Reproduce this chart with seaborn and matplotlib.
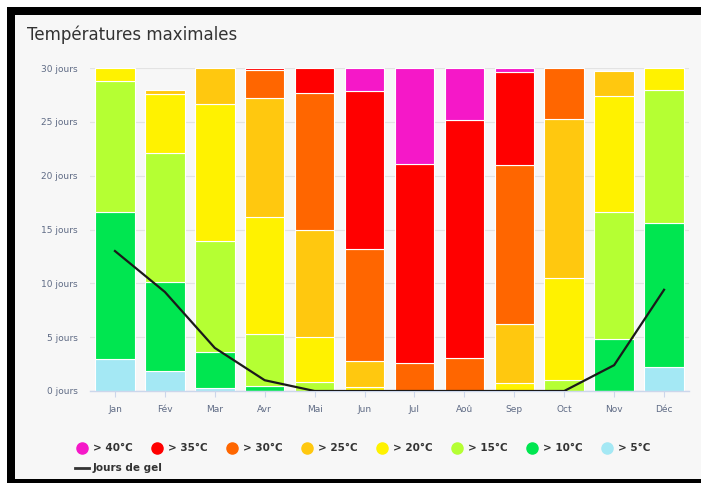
import numpy as np
import pandas as pd
import matplotlib.pyplot as plt
import seaborn as sns
from matplotlib.lines import Line2D
from matplotlib.patches import Rectangle

months = ["Jan", "Fév", "Mar", "Avr", "Mai", "Jun", "Jul", "Aoû", "Sep", "Oct", "Nov", "Déc"]

# days per month in each max-temperature band, bottom to top
above_5  = [3.0, 1.9, 0.3, 0.0, 0.0, 0.0, 0.0, 0.0, 0.0, 0.0, 0.0, 2.2]
above_10 = [13.6, 8.2, 3.3, 0.5, 0.0, 0.0, 0.0, 0.0, 0.0, 0.0, 4.8, 13.4]
above_15 = [12.2, 12.0, 10.3, 4.8, 0.8, 0.0, 0.0, 0.0, 0.0, 1.0, 11.8, 12.4]
above_20 = [1.2, 5.5, 12.8, 10.9, 4.2, 0.4, 0.0, 0.0, 0.7, 9.5, 10.8, 2.0]
above_25 = [0.0, 0.4, 3.3, 11.0, 10.0, 2.4, 0.0, 0.0, 5.5, 14.8, 2.3, 0.0]
above_30 = [0.0, 0.0, 0.0, 2.6, 12.7, 10.4, 2.6, 3.1, 14.8, 4.7, 0.0, 0.0]
above_35 = [0.0, 0.0, 0.0, 0.2, 2.3, 14.7, 18.5, 22.1, 8.6, 0.0, 0.0, 0.0]
above_40 = [0.0, 0.0, 0.0, 0.0, 0.0, 2.1, 8.9, 4.8, 0.4, 0.0, 0.0, 0.0]
frost_days = [13.0, 9.2, 4.0, 1.0, 0.0, 0.0, 0.0, 0.0, 0.0, 0.0, 2.4, 9.4]

band_labels = ["> 5°C", "> 10°C", "> 15°C", "> 20°C", "> 25°C", "> 30°C", "> 35°C", "> 40°C"]
band_colors = ["#a4e8f4", "#00e650", "#b5ff33", "#fff200", "#ffc80f", "#ff6600", "#ff0000", "#f518c8"]
bands = [above_5, above_10, above_15, above_20, above_25, above_30, above_35, above_40]

W, H = 701, 483
fig = plt.figure(figsize=(W / 100, H / 100), dpi=100)
fig.patch.set_facecolor("white")

# black frame + light panel
fig.add_artist(Rectangle((7 / W, 0), 1, (H - 7) / H, transform=fig.transFigure,
                         facecolor="black", edgecolor="none", zorder=-20))
fig.add_artist(Rectangle((15 / W, 4 / H), 1, (479 - 15) / H, transform=fig.transFigure,
                         facecolor="#f7f7f7", edgecolor="none", zorder=-19))

ax = fig.add_axes([90 / W, (H - 391) / H, (689 - 90) / W, (391 - 68) / H])
ax.set_facecolor("none")

bottom = np.zeros(len(months))
for vals, color in zip(bands, band_colors):
    df = pd.DataFrame({"month": months, "days": vals})
    sns.barplot(data=df, x="month", y="days", order=months, color=color, saturation=1,
                width=0.79, errorbar=None, bottom=bottom, edgecolor="white", linewidth=0.8,
                ax=ax, zorder=2)
    bottom = bottom + np.array(vals)

for p in ax.patches:
    if p.get_height() <= 0:
        p.set_linewidth(0)

sns.lineplot(x=np.arange(len(months)), y=frost_days, color="#1a1a1a", linewidth=1.6,
             sort=False, ax=ax, zorder=3)

ax.set_xlim(-0.5, len(months) - 0.5)
ax.set_ylim(0, 30)
ax.set_yticks(range(0, 31, 5))
ax.set_yticklabels([f"{v} jours" for v in range(0, 31, 5)])
ax.set_xticks(range(len(months)))
ax.set_xticklabels(months)
ax.set_xlabel("")
ax.set_ylabel("")
ax.grid(axis="y", color="#e3e3e3", linewidth=0.8, zorder=0)
ax.set_axisbelow(True)
for s in ["top", "right", "left"]:
    ax.spines[s].set_visible(False)
ax.spines["bottom"].set_color("#ccd6eb")
ax.spines["bottom"].set_linewidth(1)
ax.tick_params(axis="y", length=0, pad=9, labelsize=6.5, labelcolor="#5f6b85")
ax.tick_params(axis="x", length=4, width=0.8, color="#ccd6eb", pad=6,
               labelsize=6.5, labelcolor="#5f6b85")

fig.text(27 / W, 1 - 35 / H, "Températures maximales", fontsize=12, color="#333333",
         ha="left", va="center")

# legend row 1 (top band first)
for i, (lab, col) in enumerate(zip(band_labels[::-1], band_colors[::-1])):
    x0 = (82 + 75 * i) / W
    y0 = 1 - 448 / H
    fig.add_artist(Line2D([x0], [y0], transform=fig.transFigure, marker="o",
                          markersize=8, color=col, linestyle="none"))
    fig.text(x0 + 11 / W, y0, lab, fontsize=7.5, fontweight="bold", color="#333333",
             ha="left", va="center")

# legend row 2
y1 = 1 - 468 / H
fig.add_artist(Line2D([75 / W, 89 / W], [y1, y1], transform=fig.transFigure,
                      color="#333333", linewidth=2))
fig.text(93 / W, y1, "Jours de gel", fontsize=7.5, fontweight="bold", color="#333333",
         ha="left", va="center")

fig.savefig("out.png", dpi=100)
